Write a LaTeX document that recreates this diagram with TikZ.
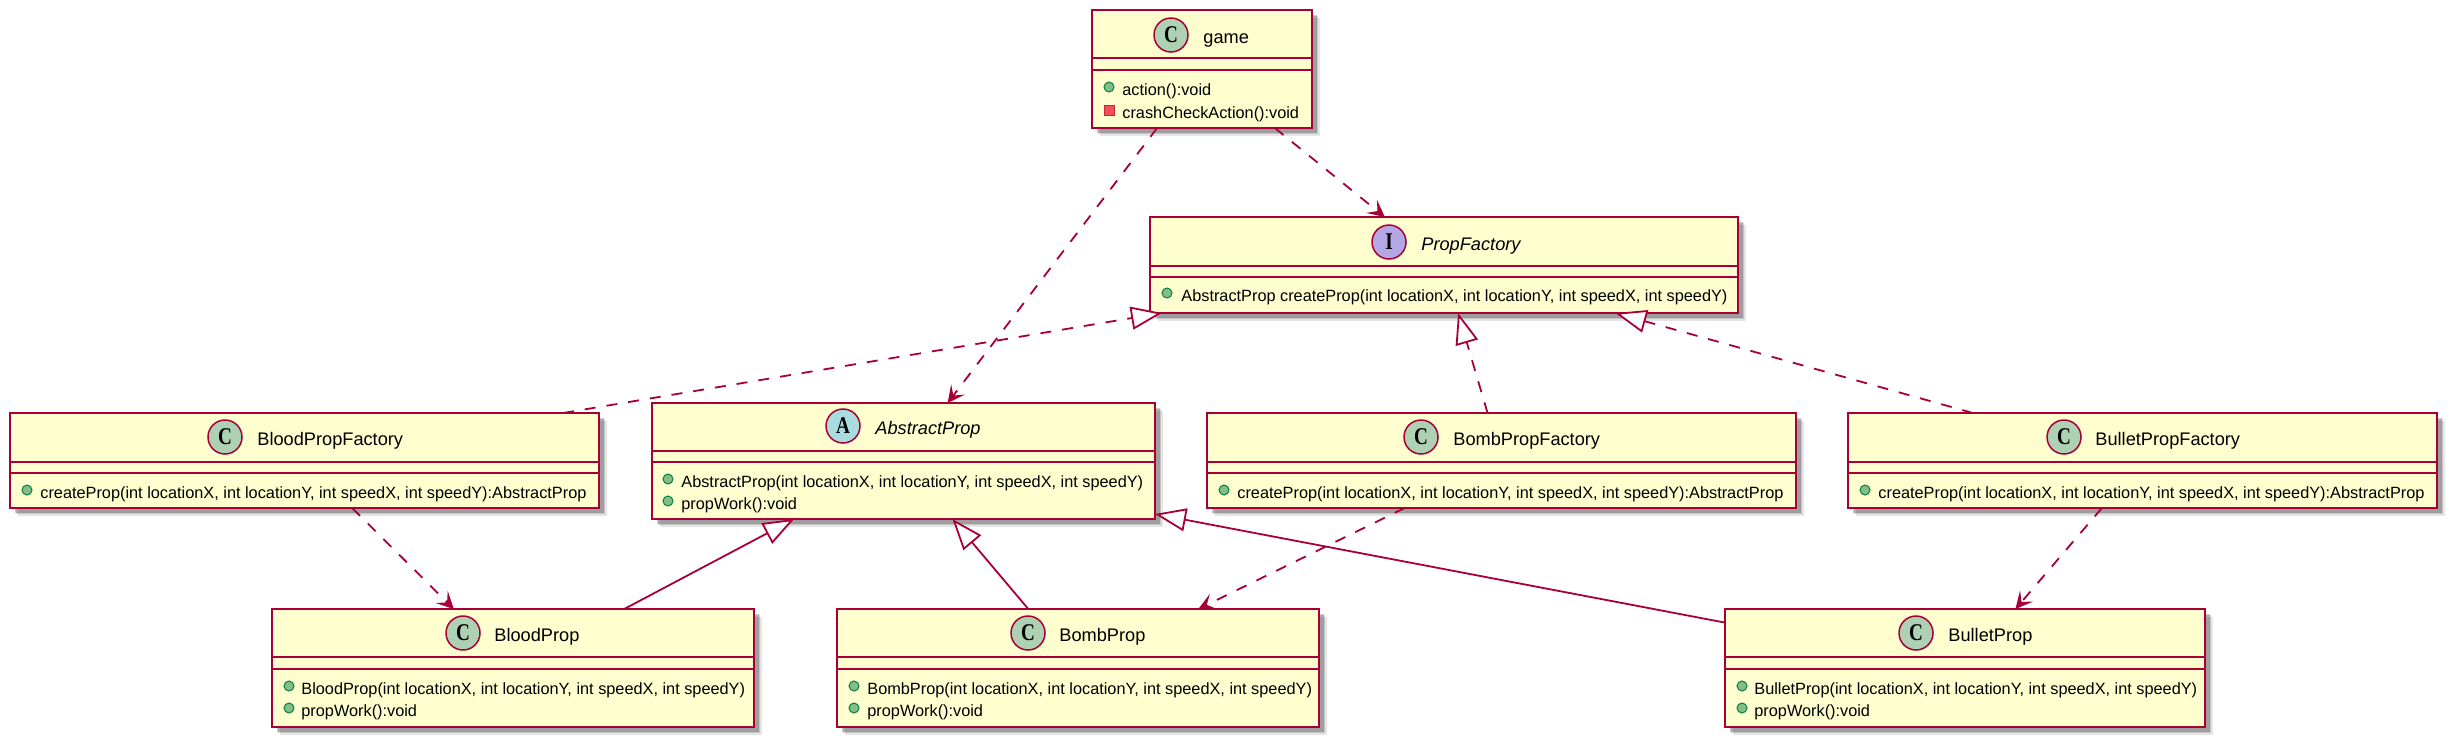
\documentclass[tikz,border=0pt]{standalone}
\usepackage{fontspec}
\setmainfont{Liberation Sans}
\newfontfamily\spotfont[FakeStretch=0.8]{Liberation Serif}
\usetikzlibrary{arrows.meta,shadows}
\definecolor{umlred}{HTML}{A80036}
\definecolor{umlfill}{HTML}{FEFECE}
\definecolor{spotC}{HTML}{ADD1B2}
\definecolor{spotA}{HTML}{A9DCDF}
\definecolor{spotI}{HTML}{B4A7E5}
\definecolor{pubfill}{HTML}{84BE84}
\definecolor{publine}{HTML}{038048}
\definecolor{privfill}{HTML}{F24D5C}
\definecolor{privline}{HTML}{C82930}
\tikzset{
  classbox/.style={rectangle, draw=umlred, fill=umlfill, line width=1.2pt, inner sep=0pt, outer sep=0pt,
    general shadow={shadow xshift=4pt, shadow yshift=-4pt, fill=black, opacity=.1},
    general shadow={shadow xshift=3.2pt, shadow yshift=-3.2pt, fill=black, opacity=.14},
    general shadow={shadow xshift=2.4pt, shadow yshift=-2.4pt, fill=black, opacity=.2}},
  classrule/.style={draw=umlred, line width=1.2pt},
  spotnode/.style={circle, draw=umlred, line width=.75pt, minimum size=17pt, inner sep=0pt,
    font=\spotfont\bfseries\fontsize{12}{12}\selectfont},
  titletext/.style={anchor=base west, inner sep=0pt, font=\fontsize{9.1}{11}\selectfont},
  membertext/.style={anchor=base west, inner sep=0pt, font=\fontsize{8.15}{10}\selectfont},
  pubdot/.style={circle, draw=publine, fill=pubfill, line width=.5pt, minimum size=5pt, inner sep=0pt},
  privsquare/.style={rectangle, draw=privline, fill=privfill, line width=.5pt, minimum size=5pt, inner sep=0pt},
  depends/.style={draw=umlred, line width=.9pt, dash pattern=on 5.5pt off 5.5pt,
    -{Stealth[length=8.5pt, width=8.5pt, inset=3.8pt, fill=umlred]}},
  realizes/.style={draw=umlred, line width=.9pt, dash pattern=on 5.5pt off 5.5pt,
    -{Triangle[open, fill=white, length=15.5pt, width=11.5pt]}},
  extends/.style={draw=umlred, line width=.9pt,
    -{Triangle[open, fill=white, length=15.5pt, width=11.5pt]}}
}
\begin{document}
\begin{tikzpicture}[x=0.5pt,y=-0.5pt]
\useasboundingbox (0,0) rectangle (2455,745);
\node[classbox, minimum width=110pt, minimum height=59pt] (game) at (1202,69) {};
\draw[classrule] (1092,58) -- (1312,58);
\draw[classrule] (1092,70) -- (1312,70);
\node[spotnode, fill=spotC] (gameSpot) at (1171,35) {C};
\node[titletext] (gameTitle) at (1203,43) {game};
\node[pubdot] (gameDotA) at (1109,87) {};
\node[membertext] (gameAction) at (1122,95) {action():void};
\node[privsquare] (gameDotB) at (1109,110) {};
\node[membertext] (gameCrash) at (1122,118) {crashCheckAction():void};
\node[classbox, minimum width=294pt, minimum height=48pt] (PropFactory) at (1444,265) {};
\draw[classrule] (1150,266) -- (1738,266);
\draw[classrule] (1150,277) -- (1738,277);
\node[spotnode, fill=spotI] (PropFactorySpot) at (1389,242) {I};
\node[titletext] (PropFactoryTitle) at (1421,250) {\itshape PropFactory};
\node[pubdot] (PropFactoryDot) at (1167,293) {};
\node[membertext] (PropFactoryCreate) at (1181,301) {AbstractProp createProp(int locationX, int locationY, int speedX, int speedY)};
\node[classbox, minimum width=294.5pt, minimum height=47.5pt] (BloodPropFactory) at (304.5,460.5) {};
\draw[classrule] (10,462) -- (599,462);
\draw[classrule] (10,473) -- (599,473);
\node[spotnode, fill=spotC] (BloodPropFactorySpot) at (225,437) {C};
\node[titletext] (BloodPropFactoryTitle) at (257,445) {BloodPropFactory};
\node[pubdot] (BloodPropFactoryDot) at (27,490) {};
\node[membertext] (BloodPropFactoryCreate) at (40,498) {createProp(int locationX, int locationY, int speedX, int speedY):AbstractProp};
\node[classbox, minimum width=251.5pt, minimum height=58pt] (AbstractProp) at (903.5,461) {};
\draw[classrule] (652,451) -- (1155,451);
\draw[classrule] (652,462) -- (1155,462);
\node[spotnode, fill=spotA] (AbstractPropSpot) at (843,426) {A};
\node[titletext] (AbstractPropTitle) at (875,434) {\itshape AbstractProp};
\node[pubdot] (AbstractPropDotA) at (668,479) {};
\node[membertext] (AbstractPropCtor) at (681,487) {AbstractProp(int locationX, int locationY, int speedX, int speedY)};
\node[pubdot] (AbstractPropDotB) at (668,501) {};
\node[membertext] (AbstractPropWork) at (681,509) {propWork():void};
\node[classbox, minimum width=294.5pt, minimum height=47.5pt] (BombPropFactory) at (1501.5,460.5) {};
\draw[classrule] (1207,462) -- (1796,462);
\draw[classrule] (1207,473) -- (1796,473);
\node[spotnode, fill=spotC] (BombPropFactorySpot) at (1421,437) {C};
\node[titletext] (BombPropFactoryTitle) at (1453,445) {BombPropFactory};
\node[pubdot] (BombPropFactoryDot) at (1224,490) {};
\node[membertext] (BombPropFactoryCreate) at (1237,498) {createProp(int locationX, int locationY, int speedX, int speedY):AbstractProp};
\node[classbox, minimum width=294.5pt, minimum height=47.5pt] (BulletPropFactory) at (2142.5,460.5) {};
\draw[classrule] (1848,462) -- (2437,462);
\draw[classrule] (1848,473) -- (2437,473);
\node[spotnode, fill=spotC] (BulletPropFactorySpot) at (2064,437) {C};
\node[titletext] (BulletPropFactoryTitle) at (2095,445) {BulletPropFactory};
\node[pubdot] (BulletPropFactoryDot) at (1865,490) {};
\node[membertext] (BulletPropFactoryCreate) at (1878,498) {createProp(int locationX, int locationY, int speedX, int speedY):AbstractProp};
\node[classbox, minimum width=241pt, minimum height=59pt] (BloodProp) at (513,668) {};
\draw[classrule] (272,657) -- (754,657);
\draw[classrule] (272,669) -- (754,669);
\node[spotnode, fill=spotC] (BloodPropSpot) at (463,633) {C};
\node[titletext] (BloodPropTitle) at (494,641) {BloodProp};
\node[pubdot] (BloodPropDotA) at (289,686) {};
\node[membertext] (BloodPropCtor) at (301,694) {BloodProp(int locationX, int locationY, int speedX, int speedY)};
\node[pubdot] (BloodPropDotB) at (289,708) {};
\node[membertext] (BloodPropWork) at (301,716) {propWork():void};
\node[classbox, minimum width=241pt, minimum height=59pt] (BombProp) at (1078,668) {};
\draw[classrule] (837,657) -- (1319,657);
\draw[classrule] (837,669) -- (1319,669);
\node[spotnode, fill=spotC] (BombPropSpot) at (1028,633) {C};
\node[titletext] (BombPropTitle) at (1059,641) {BombProp};
\node[pubdot] (BombPropDotA) at (854,686) {};
\node[membertext] (BombPropCtor) at (867,694) {BombProp(int locationX, int locationY, int speedX, int speedY)};
\node[pubdot] (BombPropDotB) at (854,708) {};
\node[membertext] (BombPropWork) at (867,716) {propWork():void};
\node[classbox, minimum width=240pt, minimum height=59pt] (BulletProp) at (1965,668) {};
\draw[classrule] (1725,657) -- (2205,657);
\draw[classrule] (1725,669) -- (2205,669);
\node[spotnode, fill=spotC] (BulletPropSpot) at (1916,633) {C};
\node[titletext] (BulletPropTitle) at (1948,641) {BulletProp};
\node[pubdot] (BulletPropDotA) at (1742,686) {};
\node[membertext] (BulletPropCtor) at (1754,694) {BulletProp(int locationX, int locationY, int speedX, int speedY)};
\node[pubdot] (BulletPropDotB) at (1742,708) {};
\node[membertext] (BulletPropWork) at (1754,716) {propWork():void};
\draw[depends] (game) -- (PropFactory);
\draw[depends] (game) -- (AbstractProp);
\draw[realizes] ([xshift=-18pt]BloodPropFactory.north east) -- ([xshift=6pt]PropFactory.south west);
\draw[realizes] (BombPropFactory) -- (PropFactory);
\draw[realizes] (BulletPropFactory) -- (PropFactory);
\draw[depends] (BloodPropFactory) -- (BloodProp);
\draw[depends] (BombPropFactory) -- (BombProp);
\draw[depends] (BulletPropFactory) -- (BulletProp);
\draw[extends] (BloodProp) -- (AbstractProp);
\draw[extends] (BombProp) -- (AbstractProp);
\draw[extends] (BulletProp) -- ([yshift=2.5pt]AbstractProp.south east);
\end{tikzpicture}
\end{document}
